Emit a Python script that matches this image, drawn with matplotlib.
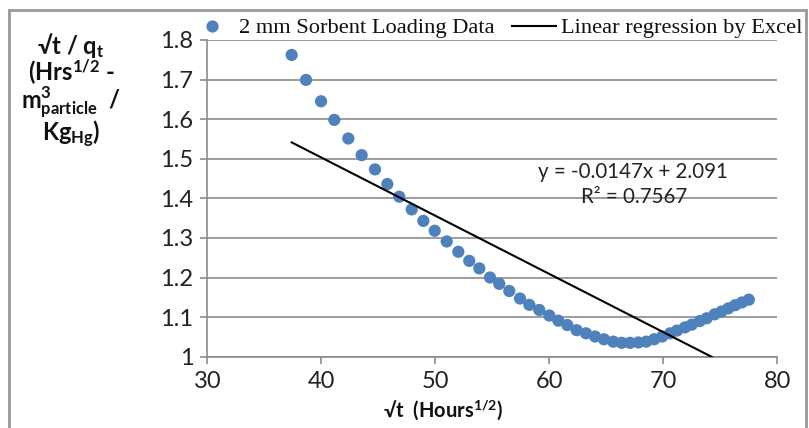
import matplotlib
matplotlib.use("Agg")
import matplotlib.pyplot as plt
from matplotlib.lines import Line2D
from matplotlib.patches import Rectangle
import numpy as np

plt.rcParams['font.family'] = ['Lato', 'DejaVu Sans']
plt.rcParams['mathtext.fontset'] = 'custom'
plt.rcParams['mathtext.rm'] = 'Lato'
plt.rcParams['mathtext.bf'] = 'Lato:bold'
plt.rcParams['mathtext.it'] = 'Lato:italic'

# ---- data ----
sqrt_t = [37.40, 38.66, 39.98, 41.14, 42.37, 43.54, 44.71, 45.79, 46.84, 47.93,
          48.95, 49.95, 51.00, 52.02, 52.98, 53.86, 54.80, 55.61, 56.49, 57.43,
          58.25, 59.12, 60.00, 60.79, 61.58, 62.40, 63.22, 64.01, 64.80, 65.61,
          66.35, 67.08, 67.81, 68.50, 69.20, 69.90, 70.60, 71.20, 71.90, 72.50,
          73.20, 73.80, 74.50, 75.10, 75.70, 76.30, 76.90, 77.50]
ratio = [1.762, 1.699, 1.645, 1.598, 1.551, 1.509, 1.473, 1.436, 1.404, 1.372,
         1.343, 1.318, 1.291, 1.265, 1.242, 1.223, 1.200, 1.184, 1.166, 1.147,
         1.131, 1.118, 1.104, 1.091, 1.080, 1.067, 1.059, 1.051, 1.044, 1.038,
         1.035, 1.035, 1.036, 1.038, 1.044, 1.051, 1.059, 1.066, 1.074, 1.081,
         1.090, 1.097, 1.107, 1.114, 1.122, 1.130, 1.137, 1.144]
slope = -0.0147
intercept = 2.091
r_squared = 0.7567
x_ticks = [30, 40, 50, 60, 70, 80]
y_ticks = [1.0, 1.1, 1.2, 1.3, 1.4, 1.5, 1.6, 1.7, 1.8]
y_tick_labels = ["1", "1.1", "1.2", "1.3", "1.4", "1.5", "1.6", "1.7", "1.8"]
series_label = "2 mm Sorbent Loading Data"
trend_label = "Linear regression by Excel"

W, H = 809, 428
fig = plt.figure(figsize=(W / 100, H / 100), dpi=100)
ax = fig.add_axes([207.3 / W, 1 - 356.7 / H, (777.3 - 207.3) / W, (356.7 - 39.9) / H])


def px_to_data(px, py):
    return 30 + (px - 207.3) / 11.4, 1 + (356.7 - py) / 396


grid_c = '#8c8c8c'
ax.set_xlim(30, 80)
ax.set_ylim(1.0, 1.8)
ax.set_xticks(x_ticks)
ax.set_yticks(y_ticks)
ax.set_yticklabels(y_tick_labels)
ax.grid(axis='y', color=grid_c, linewidth=1.2, zorder=0)
ax.set_axisbelow(True)
for s in ['top', 'right']:
    ax.spines[s].set_visible(False)
for s in ['left', 'bottom']:
    ax.spines[s].set_color(grid_c)
    ax.spines[s].set_linewidth(1.2)
ax.tick_params(axis='both', direction='out', length=5, width=1.2, color=grid_c,
               labelsize=17, labelcolor='#222222', pad=5)

ax.scatter(sqrt_t, ratio, s=8.8 ** 2, color='#4F81BD', edgecolors='none', zorder=3,
           clip_on=False)
xr = np.array([min(sqrt_t), max(sqrt_t)])
ax.plot(xr, slope * xr + intercept, color='black', linewidth=1.5, zorder=4)

ax.text(*px_to_data(633, 172), f"y = {slope}x + {intercept}", fontsize=14.8,
        ha='center', va='center', color='#222222')
ax.text(*px_to_data(634, 197), f"R² = {r_squared}", fontsize=14.8,
        ha='center', va='center', color='#222222')

# legend
handles = [Line2D([], [], linestyle='none', marker='o', markersize=8.8,
                  markerfacecolor='#4F81BD', markeredgecolor='none'),
           Line2D([], [], color='black', linewidth=1.5)]
leg = fig.legend(handles, [series_label, trend_label], ncol=2, frameon=False,
                 loc='center left', bbox_to_anchor=(190 / W, 1 - 28 / H),
                 prop={'family': 'Liberation Serif', 'size': 16.1},
                 handlelength=2.0, handletextpad=0.2, columnspacing=0.75,
                 borderpad=0, borderaxespad=0)
for txt in leg.get_texts():
    txt.set_color('#111111')

# axis titles
fig.text(443 / W, 1 - 410 / H, r"√t  (Hours$^{\mathbf{1/2}}$)", fontsize=14.5,
         fontweight='bold', ha='center', va='center', color='#111111')
ylab = "\n".join([r"√t / q$_{\mathbf{t}}$",
                  r"(Hrs$^{\mathbf{1/2}}$ -",
                  r"m$^{\mathbf{3}}_{\mathbf{particle}}$  /",
                  r"Kg$_{\mathbf{Hg}}$)"])
fig.text(71 / W, 1 - 31 / H, ylab, fontsize=17, fontweight='bold',
         ha='center', va='top', multialignment='center', linespacing=0.9,
         color='#111111')

# outer chart border
fig.patches.append(Rectangle((9 / W, -0.05), (806 - 9) / W, 1 - 10 / H + 0.05,
                             transform=fig.transFigure, fill=False,
                             edgecolor='#999999', linewidth=2))

fig.savefig("out.png", dpi=100)
